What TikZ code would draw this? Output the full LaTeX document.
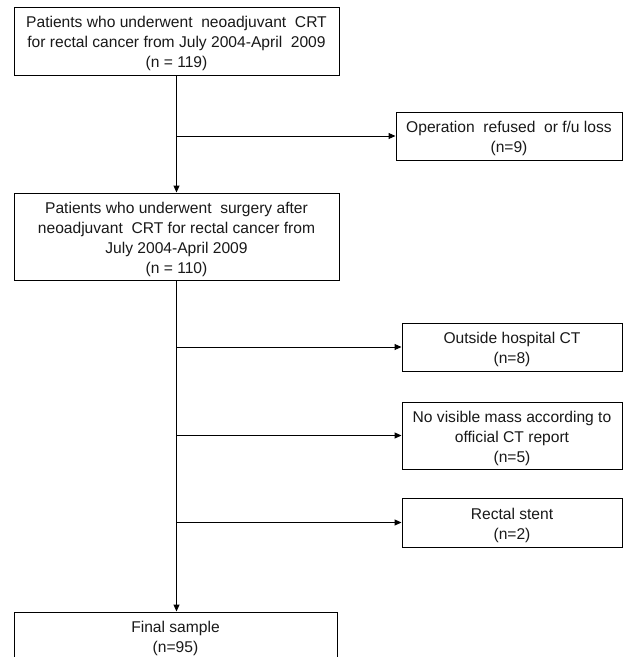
\documentclass[tikz,border=0pt]{standalone}
\usepackage{fontspec}
\setmainfont{Liberation Sans}
\usetikzlibrary{arrows.meta}
\begin{document}
\begin{tikzpicture}[x=1pt,y=-1pt,
  box/.style={draw=black,line width=1pt,inner sep=0pt},
  txt/.style={align=center,inner sep=0pt,yshift=-2.5pt,font=\fontsize{15.6}{20}\selectfont,text=black!90},
  arr/.style={draw=black,line width=1pt,-{Triangle[length=7pt,width=6pt]}}]
\useasboundingbox (0,0) rectangle (623,657);
\clip (0,0) rectangle (623,657);
\fill[white] (0,0) rectangle (623,657);
\node[box,minimum width=325pt,minimum height=68pt,
  label={[txt]center:Patients who underwent\ \ neoadjuvant\ \ CRT\\for rectal cancer from July 2004-April\ \ 2009\\(n = 119)}] (b1) at (176.5,41) {};
\node[box,minimum width=226pt,minimum height=48pt,
  label={[txt]center:Operation\ \ refused\ \ or f/u loss\\(n=9)}] (op) at (509,136) {};
\node[box,minimum width=325pt,minimum height=87pt,
  label={[txt]center:Patients who underwent\ \ surgery after\\neoadjuvant\ \ CRT for rectal cancer from\\July 2004-April 2009\\(n = 110)}] (b2) at (176.5,236.5) {};
\node[box,minimum width=220pt,minimum height=48pt,
  label={[txt]center:Outside hospital CT\\(n=8)}] (oh) at (512,347) {};
\node[box,minimum width=220pt,minimum height=67pt,
  label={[txt]center:No visible mass according to\\official CT report\\(n=5)}] (nv) at (512,435.5) {};
\node[box,minimum width=220pt,minimum height=49pt,
  label={[txt]center:Rectal stent\\(n=2)}] (rs) at (512,522.5) {};
\node[box,minimum width=323pt,minimum height=48pt,
  label={[txt]center:Final sample\\(n=95)}] (fs) at (175.5,636) {};
\coordinate (j1) at (b1.south |- op.west);
\coordinate (j2) at (b2.south |- oh.west);
\coordinate (j3) at (b2.south |- nv.west);
\coordinate (j4) at (b2.south |- rs.west);
\draw[arr] (b1.south) -- (b2.north);
\draw[arr] (j1) -- (op.west);
\draw[arr] (b2.south) -- (b2.south |- fs.north);
\draw[arr] (j2) -- (oh.west);
\draw[arr] (j3) -- (nv.west);
\draw[arr] (j4) -- (rs.west);
\end{tikzpicture}
\end{document}
